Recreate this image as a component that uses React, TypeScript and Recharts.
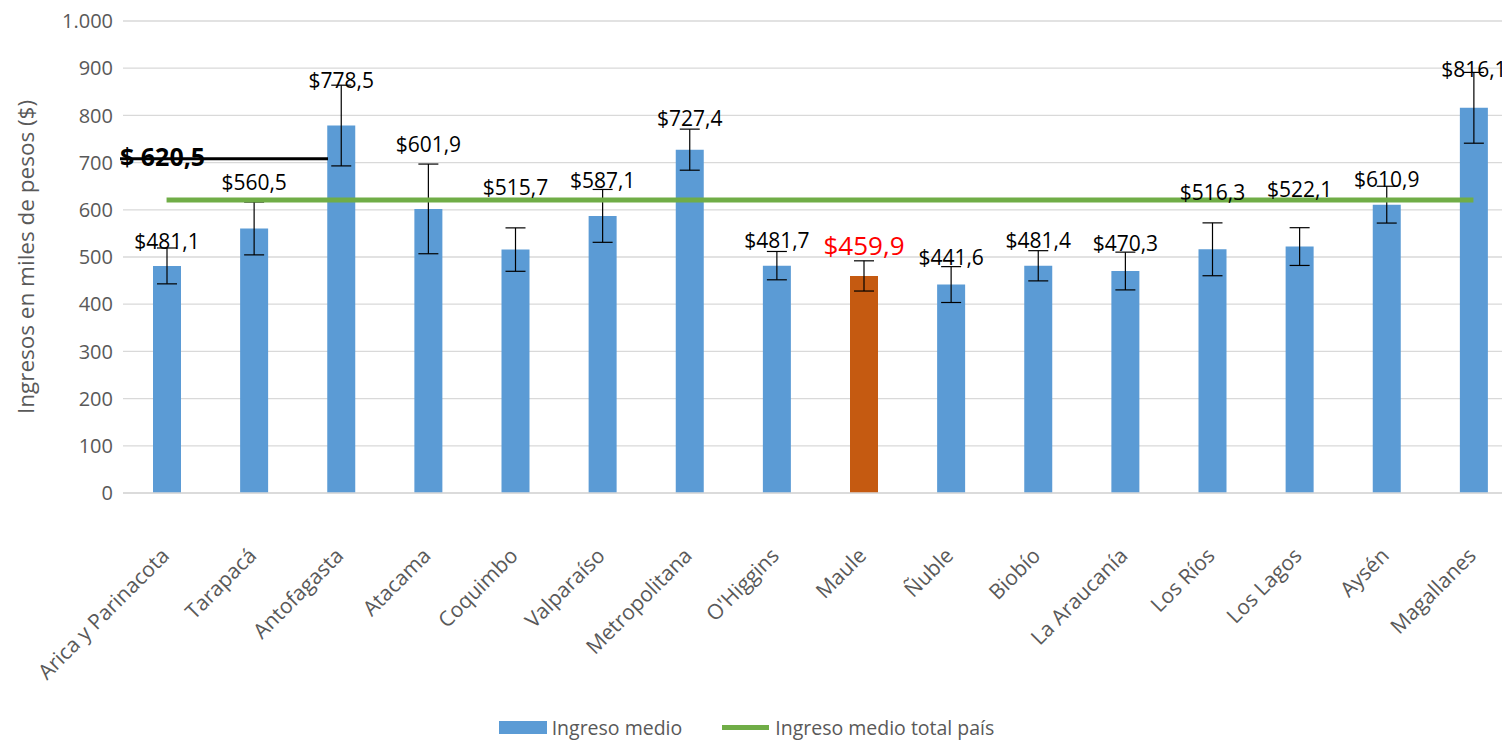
import {
  Bar,
  CartesianGrid,
  Cell,
  ComposedChart,
  ErrorBar,
  LabelList,
  Legend,
  Line,
  ReferenceLine,
  XAxis,
  YAxis,
} from "recharts";

const regions = [
  "Arica y Parinacota",
  "Tarapacá",
  "Antofagasta",
  "Atacama",
  "Coquimbo",
  "Valparaíso",
  "Metropolitana",
  "O'Higgins",
  "Maule",
  "Ñuble",
  "Biobío",
  "La Araucanía",
  "Los Ríos",
  "Los Lagos",
  "Aysén",
  "Magallanes",
];

const ingresoMedio = [481.1, 560.5, 778.5, 601.9, 515.7, 587.1, 727.4, 481.7, 459.9, 441.6, 481.4, 470.3, 516.3, 522.1, 610.9, 816.1];

// half-width of the error bars, thousands of pesos
const errores = [38, 56, 85.5, 95, 46, 56, 43.5, 30, 32, 38, 32, 40, 56, 40, 39, 75];

const totalPais = 620.5;
const yTicks = [0, 100, 200, 300, 400, 500, 600, 700, 800, 900, 1000];

const highlightIndex = 8; // Maule
// how far each value label sits above its bar (px), as placed in the original
const labelLift = [17, 38, 38, 57, 55, 28, 24, 18, 21, 20, 18, 20, 49, 50, 18, 31];

const data = regions.map((region, i) => ({
  region,
  medio: ingresoMedio[i],
  err: errores[i],
  pais: totalPais,
}));

const BLUE = "#5B9BD5";
const ORANGE = "#C55A11";
const GREEN = "#70AD47";
const GREY = "#595959";
const FONT = "Open Sans";

const fmtPesos = (v: number) => "$" + v.toFixed(1).replace(".", ",");
const fmtTick = (v: number) => String(v).replace(/\B(?=(\d{3})+(?!\d))/g, ".");

function RegionTick({ x, y, payload }: any) {
  const ax = x + 4;
  const ay = y + 56;
  return (
    <text
      x={ax}
      y={ay}
      transform={`rotate(-45, ${ax}, ${ay})`}
      textAnchor="end"
      fill={GREY}
      fontSize={21}
      fontFamily={FONT}
    >
      {payload.value}
    </text>
  );
}

function ValueLabel(props: any) {
  const { x, y, width, index, value } = props;
  const hi = index === highlightIndex;
  return (
    <text
      x={x + width / 2}
      y={y - labelLift[index]}
      textAnchor="middle"
      fill={hi ? "#FF0000" : "#000"}
      fontSize={hi ? 26 : 21}
      fontFamily={FONT}
    >
      {fmtPesos(value)}
    </text>
  );
}

function LegendBox() {
  return (
    <div
      style={{
        display: "flex",
        justifyContent: "center",
        alignItems: "center",
        gap: 40,
        height: 26,
        fontFamily: FONT,
        fontSize: 19.5,
        color: GREY,
        transform: "translateX(-12px)",
      }}
    >
      <span style={{ display: "flex", alignItems: "center" }}>
        <span style={{ width: 48, height: 13, background: BLUE, marginRight: 5, display: "inline-block" }} />
        Ingreso medio
      </span>
      <span style={{ display: "flex", alignItems: "center" }}>
        <span style={{ width: 47, height: 5, background: GREEN, marginRight: 6, display: "inline-block" }} />
        Ingreso medio total país
      </span>
    </div>
  );
}

export default function App() {
  return (
    <div
      style={{
        position: "absolute",
        left: 0,
        top: 0,
        width: 1502,
        height: 740,
        overflow: "hidden",
        background: "#fff",
      }}
    >
      <ComposedChart width={1530} height={740} data={data} margin={{ top: 21, right: 13, left: 0, bottom: 0 }}>
        <CartesianGrid vertical={false} stroke="#D9D9D9" strokeWidth={1.3} />
        <XAxis
          dataKey="region"
          interval={0}
          height={221}
          tickLine={false}
          axisLine={{ stroke: "#D9D9D9", strokeWidth: 1.5 }}
          tick={<RegionTick />}
        />
        <YAxis
          domain={[0, 1000]}
          ticks={yTicks}
          width={123}
          axisLine={false}
          tickLine={false}
          tickMargin={4}
          tickFormatter={fmtTick}
          tick={{ fill: GREY, fontSize: 20, fontFamily: FONT }}
          label={{
            value: "Ingresos en miles de pesos ($)",
            angle: -90,
            position: "center",
            dx: -35,
            fill: GREY,
            fontSize: 22.5,
            fontFamily: FONT,
          }}
        />
        <Bar dataKey="medio" barSize={28} fill={BLUE} isAnimationActive={false}>
          {data.map((_, i) => (
            <Cell key={i} fill={i === highlightIndex ? ORANGE : BLUE} />
          ))}
          <ErrorBar dataKey="err" width={10} stroke="#000" strokeWidth={1.2} direction="y" />
          <LabelList dataKey="medio" content={<ValueLabel />} />
        </Bar>
        <Line
          dataKey="pais"
          stroke={GREEN}
          strokeWidth={5}
          dot={false}
          activeDot={false}
          isAnimationActive={false}
        />
        <ReferenceLine
          y={708}
          shape={(p: any) => (
            <g>
              <line x1={p.x1 - 3} x2={p.x1 + 205} y1={p.y1} y2={p.y1} stroke="#000" strokeWidth={3} />
              <text x={p.x1 - 3} y={p.y1 + 7} fontSize={25} fontWeight="bold" fontFamily={FONT} fill="#000">
                $ 620,5
              </text>
            </g>
          )}
        />
        <Legend verticalAlign="bottom" height={26} content={<LegendBox />} />
      </ComposedChart>
    </div>
  );
}
